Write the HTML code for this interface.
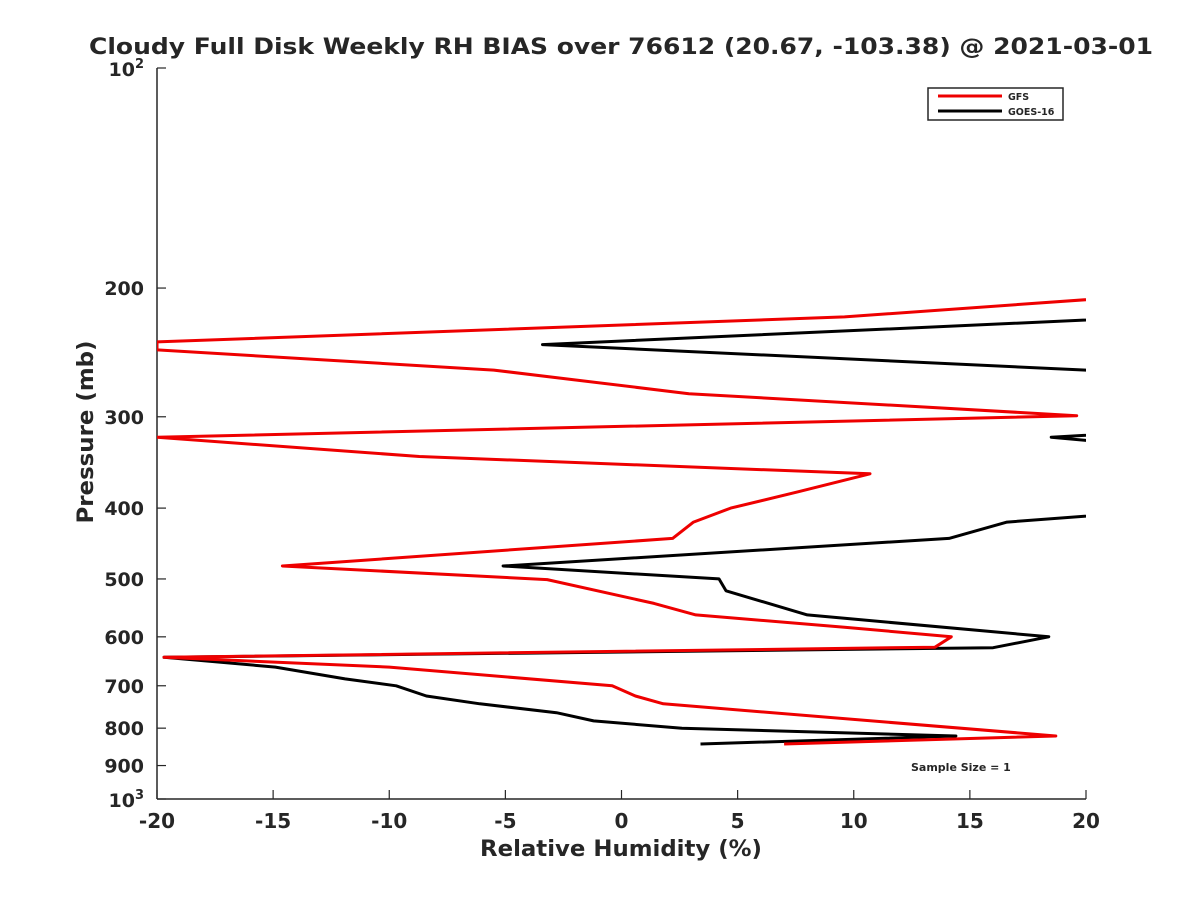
<!DOCTYPE html>
<html><head><meta charset="utf-8"><style>
body{margin:0;background:#fff;}
svg text{font-family:"DejaVu Sans","Liberation Sans",sans-serif;font-weight:bold;fill:#262626;}
</style></head><body>
<svg id="chart" width="1200" height="900" xmlns="http://www.w3.org/2000/svg">
<defs><clipPath id="clip"><rect x="157" y="68" width="929" height="731"/></clipPath></defs>
<text x="621" y="54" text-anchor="middle" font-size="22" textLength="1064" lengthAdjust="spacingAndGlyphs">Cloudy Full Disk Weekly RH BIAS over 76612 (20.67, -103.38) @ 2021-03-01</text>
<g id="axes"></g>
<g id="series" clip-path="url(#clip)"></g>
<g>
<rect x="928" y="88" width="135" height="32" fill="#fff" stroke="#262626" stroke-width="1.5"/>
<line x1="938" y1="96" x2="1002" y2="96" stroke="#e00" stroke-width="3"/>
<text x="1008" y="100" font-size="9.5">GFS</text>
<line x1="938" y1="111" x2="1002" y2="111" stroke="#000" stroke-width="3"/>
<text x="1008" y="115" font-size="9.5">GOES-16</text>
</g>
<text x="911" y="771" font-size="11">Sample Size = 1</text>
<text x="621" y="856" text-anchor="middle" font-size="22" textLength="282" lengthAdjust="spacingAndGlyphs">Relative Humidity (%)</text>
<text transform="translate(93,432) rotate(-90)" text-anchor="middle" font-size="22" textLength="183" lengthAdjust="spacingAndGlyphs">Pressure (mb)</text>
</svg>
<script>
const xTicks=[-20,-15,-10,-5,0,5,10,15,20];
const yTicks=[200,300,400,500,600,700,800,900];
const gfsP=[200,219,237,243,259,279,299,320,340,359,380,400,418,440,480,501,540,560,582,600,620,640,660,700,723,741,820,841];
const gfsV=[27,9.6,-20,-20,-5.5,2.9,19.6,-20,-8.7,10.7,7.6,4.7,3.1,2.2,-14.6,-3.2,1.4,3.2,9.6,14.2,13.5,-19.7,-10,-0.4,0.6,1.8,18.7,7.0];
const goesP=[200,219,239,259,279,299,320,340,359,380,400,418,440,480,500,519,560,600,621,640,660,685,700,723,741,762,782,800,820,841];
const goesV=[30,23,-3.4,20,28,34,18.5,28,30,30,24.5,16.6,14.1,-5.1,4.2,4.5,8,18.4,16,-19.7,-14.9,-11.9,-9.7,-8.4,-6.1,-2.8,-1.2,2.6,14.4,3.4];
const L=157,R=1086,T=68,B=799;
const xs=v=>L+(v+20)/40*(R-L);
const ys=p=>T+(Math.log10(p)-2)*(B-T);
const NS="http://www.w3.org/2000/svg";
const ax=document.getElementById('axes');
function mk(t,a,par){const e=document.createElementNS(NS,t);for(const k in a)e.setAttribute(k,a[k]);par.appendChild(e);return e;}
const ya=mk('line',{x1:L,y1:T,x2:L,y2:B,stroke:'#262626','stroke-width':1.5},ax);


const xa=mk('line',{x1:L,y1:B,x2:R,y2:B,stroke:'#262626','stroke-width':1.5},ax);


xTicks.forEach(v=>{const x=xs(v);
 mk('line',{x1:x,y1:B,x2:x,y2:B-9,stroke:'#262626','stroke-width':1.2},ax);
 const t=mk('text',{x:x,y:B+29,'text-anchor':'middle','font-size':20},ax);t.textContent=v;
 
 
});
yTicks.forEach(p=>{const y=ys(p);
 mk('line',{x1:L,y1:y,x2:L+9,y2:y,stroke:'#262626','stroke-width':1.2},ax);
 const t=mk('text',{x:L-13,y:y+7,'text-anchor':'end','font-size':19},ax);t.textContent=p;
 
 
});
[[100,'2'],[1000,'3']].forEach(([p,e])=>{const y=ys(p);
 mk('line',{x1:L,y1:y,x2:L+9,y2:y,stroke:'#262626','stroke-width':1.2},ax);
 const t=mk('text',{x:L-13,y:y+8,'text-anchor':'end','font-size':19},ax);
 
 
 t.innerHTML='10<tspan dy="-8" font-size="13">'+e+'</tspan>';
});
const sg=document.getElementById('series');
function line(P,V,c,n){const pts=P.map((p,i)=>xs(V[i]).toFixed(1)+','+ys(p).toFixed(1)).join(' ');
 const e=mk('polyline',{points:pts,fill:'none',stroke:c,'stroke-width':3,'stroke-linejoin':'round'},sg);
 
 }
line(goesP,goesV,'#000','goes16-line');
line(gfsP,gfsV,'#e00','gfs-line');
</script>
</body></html>
